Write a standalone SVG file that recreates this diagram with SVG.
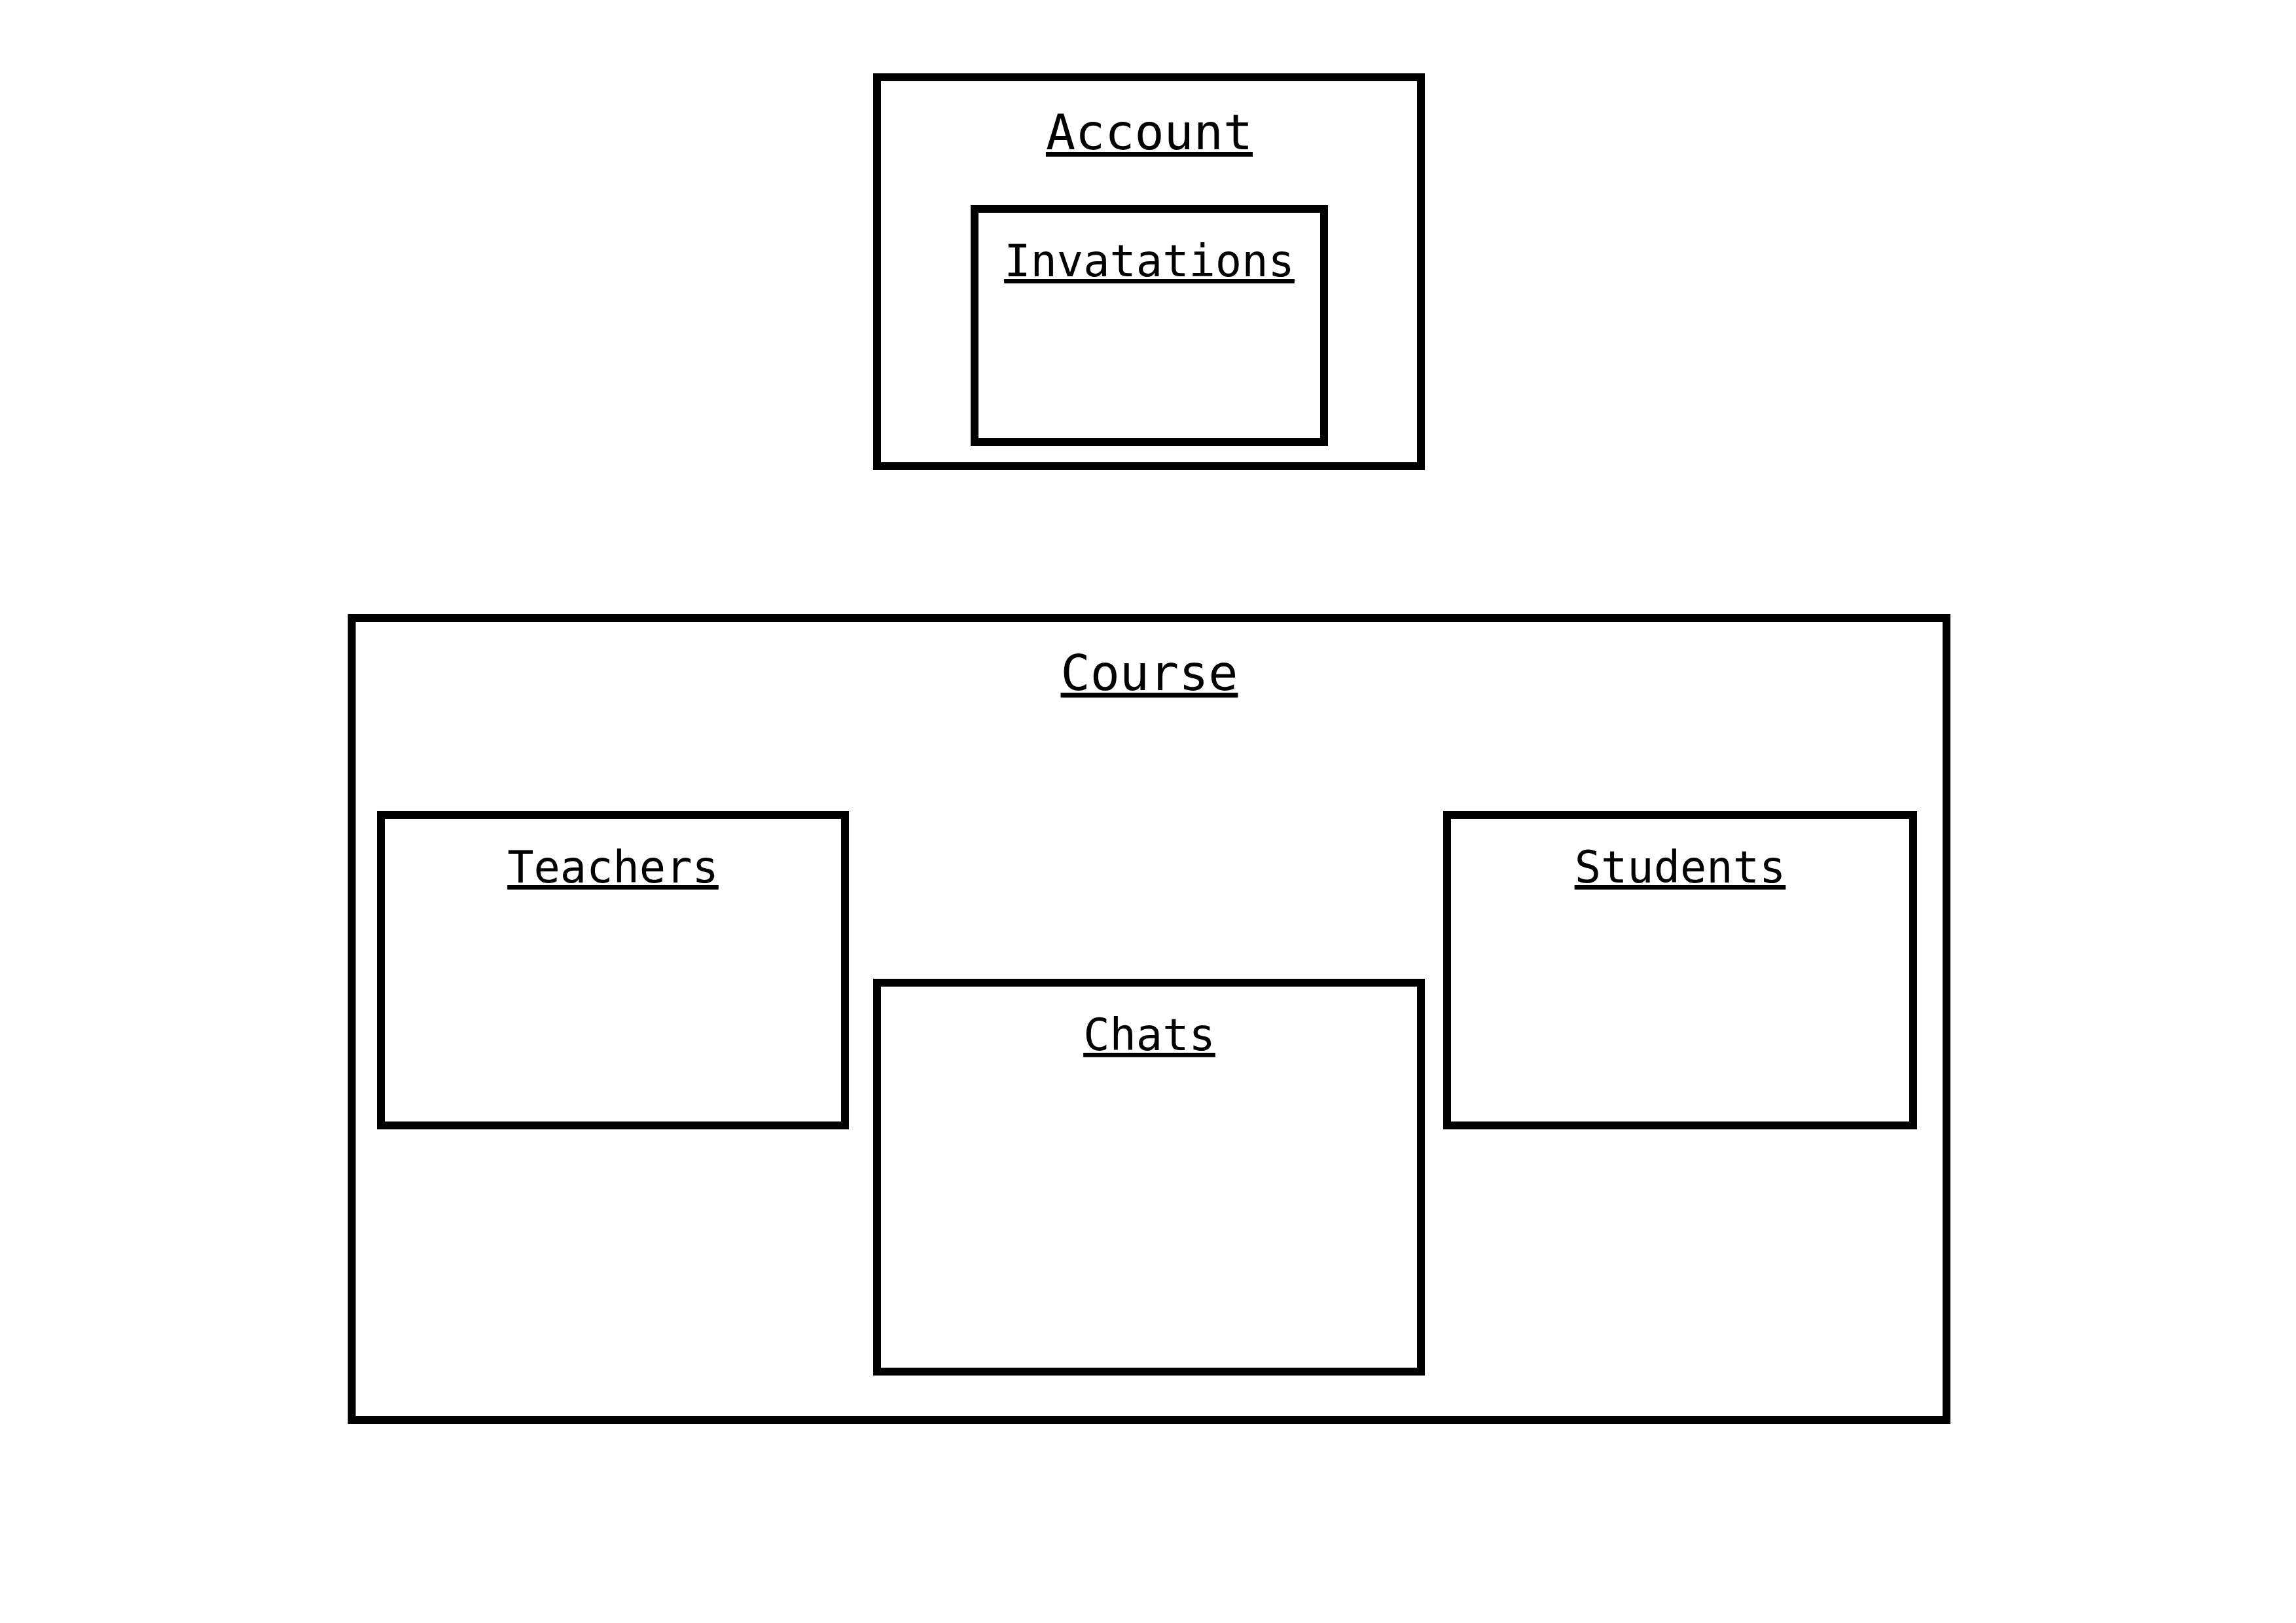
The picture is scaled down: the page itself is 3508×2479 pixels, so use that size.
<svg xmlns="http://www.w3.org/2000/svg" width="3508" height="2479" viewBox="0 0 3508 2479">
<style>
.box{fill:none;stroke:#000;stroke-width:12}
.lbl{font-family:"DejaVu Sans Mono","Liberation Mono",monospace;fill:#000;text-anchor:middle;text-decoration:underline}
.big{font-size:75px}
.small{font-size:67px}
</style>
<rect width="3508" height="2479" fill="#fff"/>
<g id="account">
<rect class="box" x="1340" y="118" width="831" height="594"/>
<text class="lbl big" x="1756" y="228">Account</text>
</g>
<g id="invatations">
<rect class="box" x="1489" y="319" width="534" height="356"/>
<text class="lbl small" x="1756" y="422">Invatations</text>
</g>
<g id="course">
<rect class="box" x="537.5" y="944" width="2436.5" height="1225"/>
<text class="lbl big" x="1756" y="1054">Course</text>
</g>
<g id="teachers">
<rect class="box" x="582" y="1245" width="709" height="474"/>
<text class="lbl small" x="936.5" y="1348">Teachers</text>
</g>
<g id="students">
<rect class="box" x="2211" y="1245" width="712" height="474"/>
<text class="lbl small" x="2567" y="1348">Students</text>
</g>
<g id="chats">
<rect class="box" x="1340" y="1501" width="831" height="594"/>
<text class="lbl small" x="1756" y="1604">Chats</text>
</g>
<g id="connectors"></g>
</svg>
